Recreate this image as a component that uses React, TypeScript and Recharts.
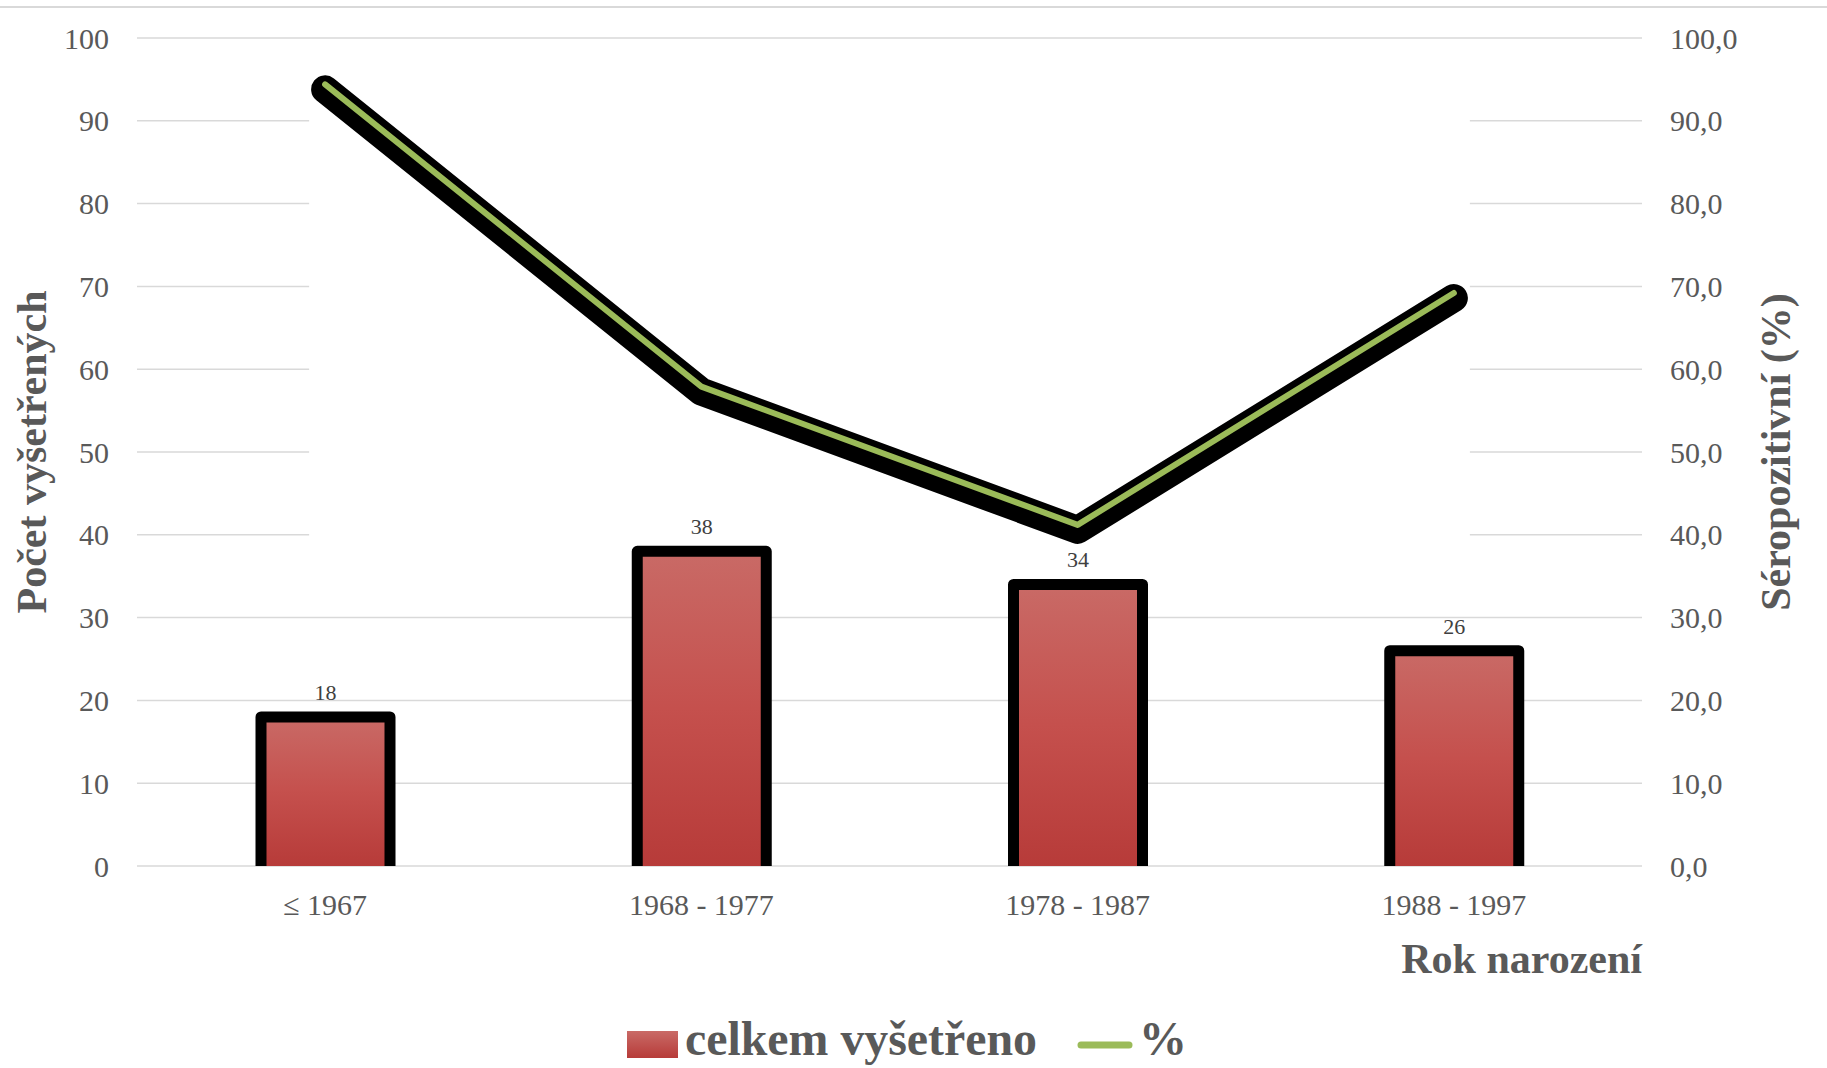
import React from 'react';
import { ComposedChart, Bar, Line, XAxis, YAxis, CartesianGrid, LabelList } from 'recharts';

const categories = ['≤ 1967', '1968 - 1977', '1978 - 1987', '1988 - 1997'];
const examined = [18, 38, 34, 26];
const seropositive = [94.4, 57.9, 41.2, 69.2];
const countTicks = [0, 10, 20, 30, 40, 50, 60, 70, 80, 90, 100];
const pctTicks = [0, 10, 20, 30, 40, 50, 60, 70, 80, 90, 100];

const data = categories.map((name, i) => ({ name, total: examined[i], pct: seropositive[i] }));

const W = 1827;
const H = 1068;
const margin = { top: 38, right: 0, bottom: 95, left: 0 };
const X_AXIS_H = 107;
const plotBottom = H - margin.bottom - X_AXIS_H;
const plotH = plotBottom - margin.top;

const FONT = '"Liberation Serif", "Times New Roman", serif';
const GREY = '#595959';
const GRID = '#d9d9d9';

// gridlines 40..90 are cut between the first and last point of the line
const gridLine = (p: any) => {
  const v = ((plotBottom - p.y1) / plotH) * 100;
  const base = { stroke: GRID, strokeWidth: 1.5 };
  if (v > 39 && v < 91) {
    const band = (p.x2 - p.x1) / categories.length;
    const g1 = p.x1 + band / 2 - 16;
    const g2 = p.x2 - band / 2 + 16;
    return (
      <g key={p.key}>
        <line {...base} x1={p.x1} x2={g1} y1={p.y1} y2={p.y2} />
        <line {...base} x1={g2} x2={p.x2} y1={p.y1} y2={p.y2} />
      </g>
    );
  }
  return <line key={p.key} {...base} x1={p.x1} x2={p.x2} y1={p.y1} y2={p.y2} />;
};

const BarShape = (props: any) => {
  const { x, y, width, height } = props;
  return (
    <g>
      <rect x={x} y={y} width={width} height={height} fill="url(#barFill)" />
      <path
        d={`M${x},${y + height} L${x},${y} L${x + width},${y} L${x + width},${y + height}`}
        fill="none"
        stroke="#000"
        strokeWidth={11}
        strokeLinejoin="round"
      />
    </g>
  );
};

const App: React.FC = () => {
  return (
    <div style={{ position: 'absolute', left: 0, top: 0, width: W, height: H, background: '#fff', fontFamily: FONT, overflow: 'hidden' }}>
      <style>{`.line-shadow { transform: translate(0px, 5px); }`}</style>
      <div style={{ position: 'absolute', left: 0, top: 6, width: W, height: 2, background: GRID }} />
      <ComposedChart width={W} height={H} data={data} margin={margin}>
        <defs>
          <linearGradient id="barFill" x1="0" y1="0" x2="0" y2="1">
            <stop offset="0%" stopColor="#c96a66" />
            <stop offset="50%" stopColor="#c5504d" />
            <stop offset="100%" stopColor="#b73b39" />
          </linearGradient>
        </defs>
        <CartesianGrid vertical={false} horizontal={gridLine} yAxisId="left" />
        <XAxis
          dataKey="name"
          height={X_AXIS_H}
          axisLine={false}
          tickLine={false}
          tickSize={0}
          tickMargin={28}
          tick={{ fill: GREY, fontSize: 30, fontFamily: FONT }}
          label={{
            value: 'Rok narození',
            position: 'insideBottomRight',
            offset: 0,
            fill: GREY,
            fontSize: 42,
            fontWeight: 'bold',
            fontFamily: FONT,
          }}
        />
        <YAxis
          yAxisId="left"
          width={137}
          domain={[0, 100]}
          ticks={countTicks}
          axisLine={false}
          tickLine={false}
          tickSize={0}
          tickMargin={28}
          tick={{ fill: GREY, fontSize: 30, fontFamily: FONT }}
          label={{
            value: 'Počet vyšetřených',
            angle: -90,
            position: 'insideLeft',
            offset: 31,
            fill: GREY,
            fontSize: 42,
            fontWeight: 'bold',
            fontFamily: FONT,
            style: { textAnchor: 'middle' },
          }}
        />
        <YAxis
          yAxisId="right"
          orientation="right"
          width={185}
          domain={[0, 100]}
          ticks={pctTicks}
          axisLine={false}
          tickLine={false}
          tickSize={0}
          tickMargin={28}
          tickFormatter={(v: number) => v.toFixed(1).replace('.', ',')}
          tick={{ fill: GREY, fontSize: 30, fontFamily: FONT, textAnchor: 'start' }}
          label={{
            value: 'Séropozitivní (%)',
            angle: -90,
            position: 'insideRight',
            offset: 52,
            fill: GREY,
            fontSize: 42,
            fontWeight: 'bold',
            fontFamily: FONT,
            style: { textAnchor: 'middle' },
          }}
        />
        <Bar yAxisId="left" dataKey="total" barSize={129} shape={<BarShape />} isAnimationActive={false}>
          <LabelList dataKey="total" position="top" offset={17} fill="#404040" fontSize={22} fontFamily={FONT} />
        </Bar>
        <Line
          yAxisId="right"
          className="line-shadow"
          dataKey="pct"
          stroke="#000"
          strokeWidth={28}
          strokeLinecap="round"
          strokeLinejoin="round"
          dot={false}
          activeDot={false}
          isAnimationActive={false}
        />
        <Line
          yAxisId="right"
          dataKey="pct"
          stroke="#9bbb59"
          strokeWidth={6}
          strokeLinecap="round"
          strokeLinejoin="round"
          dot={false}
          activeDot={false}
          isAnimationActive={false}
        />
      </ComposedChart>
      <svg width={W} height={68} style={{ position: 'absolute', left: 0, top: 1000 }}>
        <defs>
          <linearGradient id="legendFill" x1="0" y1="0" x2="0" y2="1">
            <stop offset="0%" stopColor="#c96a66" />
            <stop offset="100%" stopColor="#b73b39" />
          </linearGradient>
        </defs>
        <rect x={627} y={31} width={51} height={27} fill="url(#legendFill)" />
        <text x={685} y={55} fill={GREY} fontSize={48} fontWeight="bold" fontFamily={FONT} textLength={352} lengthAdjust="spacingAndGlyphs">
          celkem vyšetřeno
        </text>
        <line x1={1081} x2={1129} y1={45} y2={45} stroke="#9bbb59" strokeWidth={7} strokeLinecap="round" />
        <text x={1139} y={55} fill={GREY} fontSize={48} fontWeight="bold" fontFamily={FONT}>
          %
        </text>
      </svg>
    </div>
  );
};

export default App;
